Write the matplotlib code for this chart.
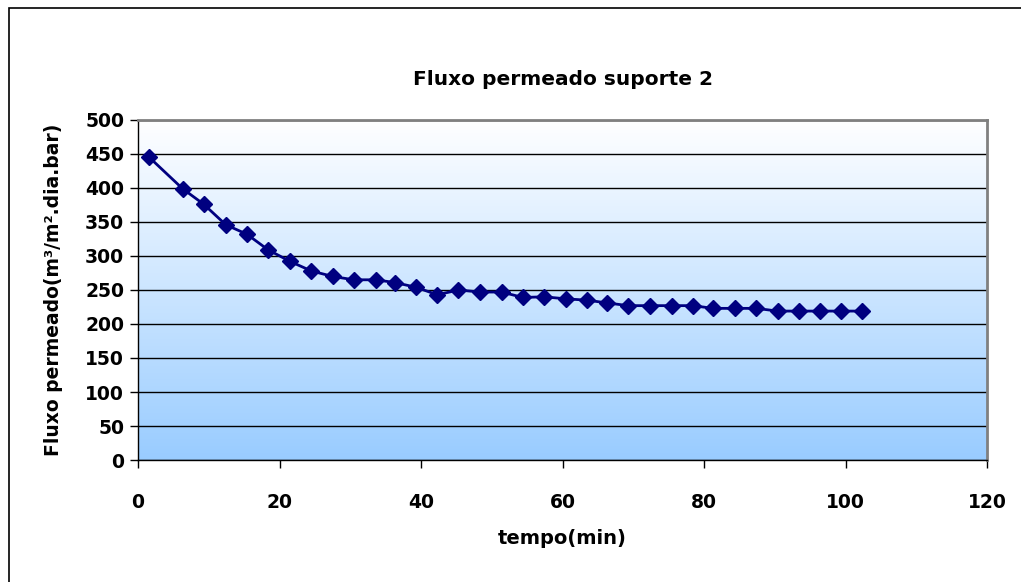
import numpy as np
import matplotlib
matplotlib.use("Agg")
import matplotlib.pyplot as plt
from matplotlib.colors import LinearSegmentedColormap
from matplotlib.patches import Rectangle

# tempo (min)
tempo = [
    1.5, 6.3, 9.3, 12.4, 15.4, 18.4, 21.5, 24.5, 27.5, 30.5,
    33.6, 36.3, 39.3, 42.3, 45.3, 48.3, 51.4, 54.4, 57.4, 60.5,
    63.5, 66.3, 69.3, 72.4, 75.5, 78.4, 81.3, 84.4, 87.4, 90.4,
    93.4, 96.4, 99.4, 102.3,
]

# fluxo permeado (m3/m2.dia.bar)
fluxo = [
    446, 399, 376, 346, 332, 309, 292, 278, 270, 265,
    265, 261, 254, 243, 250, 247, 247, 239, 240, 237,
    235, 231, 227, 227, 227, 227, 223, 223, 223, 219,
    219, 219, 219, 219,
]

x_ticks = [0, 20, 40, 60, 80, 100, 120]
y_ticks = [0, 50, 100, 150, 200, 250, 300, 350, 400, 450, 500]

plt.rcParams['font.family'] = ['DejaVu Sans']
plt.rcParams['font.weight'] = 'bold'

fig = plt.figure(figsize=(10.21, 5.82), dpi=100)
W, H = 1021, 582
ax = fig.add_axes([138 / W, 1 - 460 / H, (987 - 138) / W, (460 - 120) / H])

# fundo em degradê (branco em cima -> azul claro embaixo)
cmap = LinearSegmentedColormap.from_list('fundo', ['#ffffff', '#99ccff'])
grad = np.linspace(0, 1, 256).reshape(-1, 1)
ax.imshow(grad, cmap=cmap, aspect='auto', extent=[0, 1, 0, 1],
          transform=ax.transAxes, zorder=0)

ax.set_xlim(0, 120)
ax.set_ylim(0, 500)
ax.set_xticks(x_ticks)
ax.set_yticks(y_ticks)
ax.yaxis.grid(True, color='black', linewidth=1.0, zorder=1)
ax.set_axisbelow(True)

ax.plot(tempo, fluxo, color='#000080', linewidth=2, marker='D',
        markersize=8.5, markeredgecolor='#000080', zorder=3)

for s in ['top', 'right']:
    ax.spines[s].set_color('#808080')
    ax.spines[s].set_linewidth(2)
for s in ['left', 'bottom']:
    ax.spines[s].set_color('black')
    ax.spines[s].set_linewidth(1)

ax.tick_params(direction='out', length=6, width=1, labelsize=13.5, pad=4)
ax.tick_params(axis='x', pad=18)
for lb in ax.get_xticklabels() + ax.get_yticklabels():
    lb.set_fontweight('bold')

ax.set_title('Fluxo permeado suporte 2', fontsize=14.5, fontweight='bold', pad=25)
ax.set_xlabel('tempo(min)', fontsize=14, fontweight='bold', labelpad=12)
ax.set_ylabel('Fluxo permeado(m³/m².dia.bar)', fontsize=13.5, fontweight='bold',
              labelpad=16)

# moldura externa do gráfico
fig.patches.append(Rectangle((9 / W, -0.1), 1.2, 1.1 - 8 / H, transform=fig.transFigure,
                             fill=False, edgecolor='black', linewidth=1.2))

fig.savefig('out.png', dpi=100)
